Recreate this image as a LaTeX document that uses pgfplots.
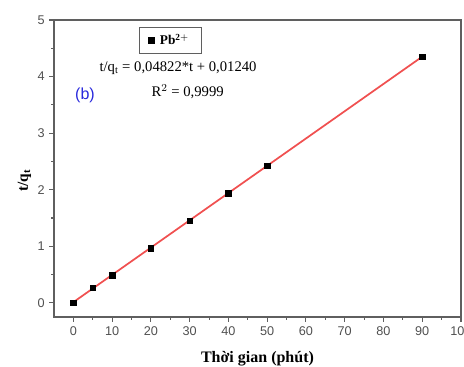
\documentclass[border=0pt]{standalone}
\usepackage{pgfplots}
\pgfplotsset{compat=1.18}
\usepackage{fontspec}
\setmainfont{Liberation Serif}
\newfontfamily\arial{Liberation Sans}
\definecolor{framegray}{RGB}{95,95,95}
\definecolor{ticktext}{RGB}{80,80,80}
\definecolor{fitred}{RGB}{240,80,80}
\definecolor{bblue}{RGB}{40,40,220}
\begin{document}
\begin{tikzpicture}
\begin{axis}[
  scale only axis,
  width=305.25pt, height=222.75pt,
  xmin=-5, xmax=100, ymin=-0.25, ymax=5,
  xtick={0,10,...,100}, ytick={0,1,...,5},
  minor x tick num=1, minor y tick num=1,
  tick align=outside,
  major tick length=3.5pt, minor tick length=2pt,
  xtick pos=bottom, ytick pos=left,
  axis line style={framegray, line width=1.1pt},
  every tick/.style={framegray, line width=0.8pt},
  tick label style={font=\arial\fontsize{9.5}{10}\selectfont, text=ticktext},
  /pgf/number format/assume math mode=true,
  xlabel={\bfseries Thời gian (phút)},
  ylabel={\bfseries t/q$_{\mathbf{t}}$},
  xlabel style={font=\fontsize{12}{13}\selectfont, yshift=-5pt},
  ylabel style={font=\fontsize{11.5}{12}\selectfont, yshift=-2pt, xshift=-9pt},
  legend style={at={(0.285,0.931)}, anchor=center, draw=framegray, line width=0.6pt, font=\fontsize{10}{11}\selectfont\bfseries, inner xsep=7pt, inner ysep=3pt},
  legend cell align=left,
  legend image post style={line width=0.4pt},
]
\addplot[only marks, mark=square*, mark size=2.1pt, black] coordinates {
(0,0) (5,0.27) (10,0.49) (20,0.97) (30,1.45) (40,1.94) (50,2.42) (90,4.35)
};
\addlegendentry{\ Pb$^{\mathbf{2+}}$}
\addplot[fitred, line width=1.3pt, forget plot] coordinates {(0,0.0124) (90,4.352)};
\node[font=\fontsize{11}{12}\selectfont, anchor=center] at (axis cs:27,4.15) {t/q$_\mathrm{t}$ = 0,04822*t + 0,01240};
\node[font=\fontsize{11}{12}\selectfont, anchor=center] at (axis cs:29.5,3.73) {R$^2$ = 0,9999};
\node[font=\arial\fontsize{12}{14}\selectfont, text=bblue, anchor=center] at (axis cs:3,3.66) {(b)};
\end{axis}
\pgfresetboundingbox
\useasboundingbox ([xshift=-40.5pt,yshift=-37.5pt]current axis.south west) rectangle ([xshift=2.25pt,yshift=15pt]current axis.north east);
\end{tikzpicture}
\end{document}
